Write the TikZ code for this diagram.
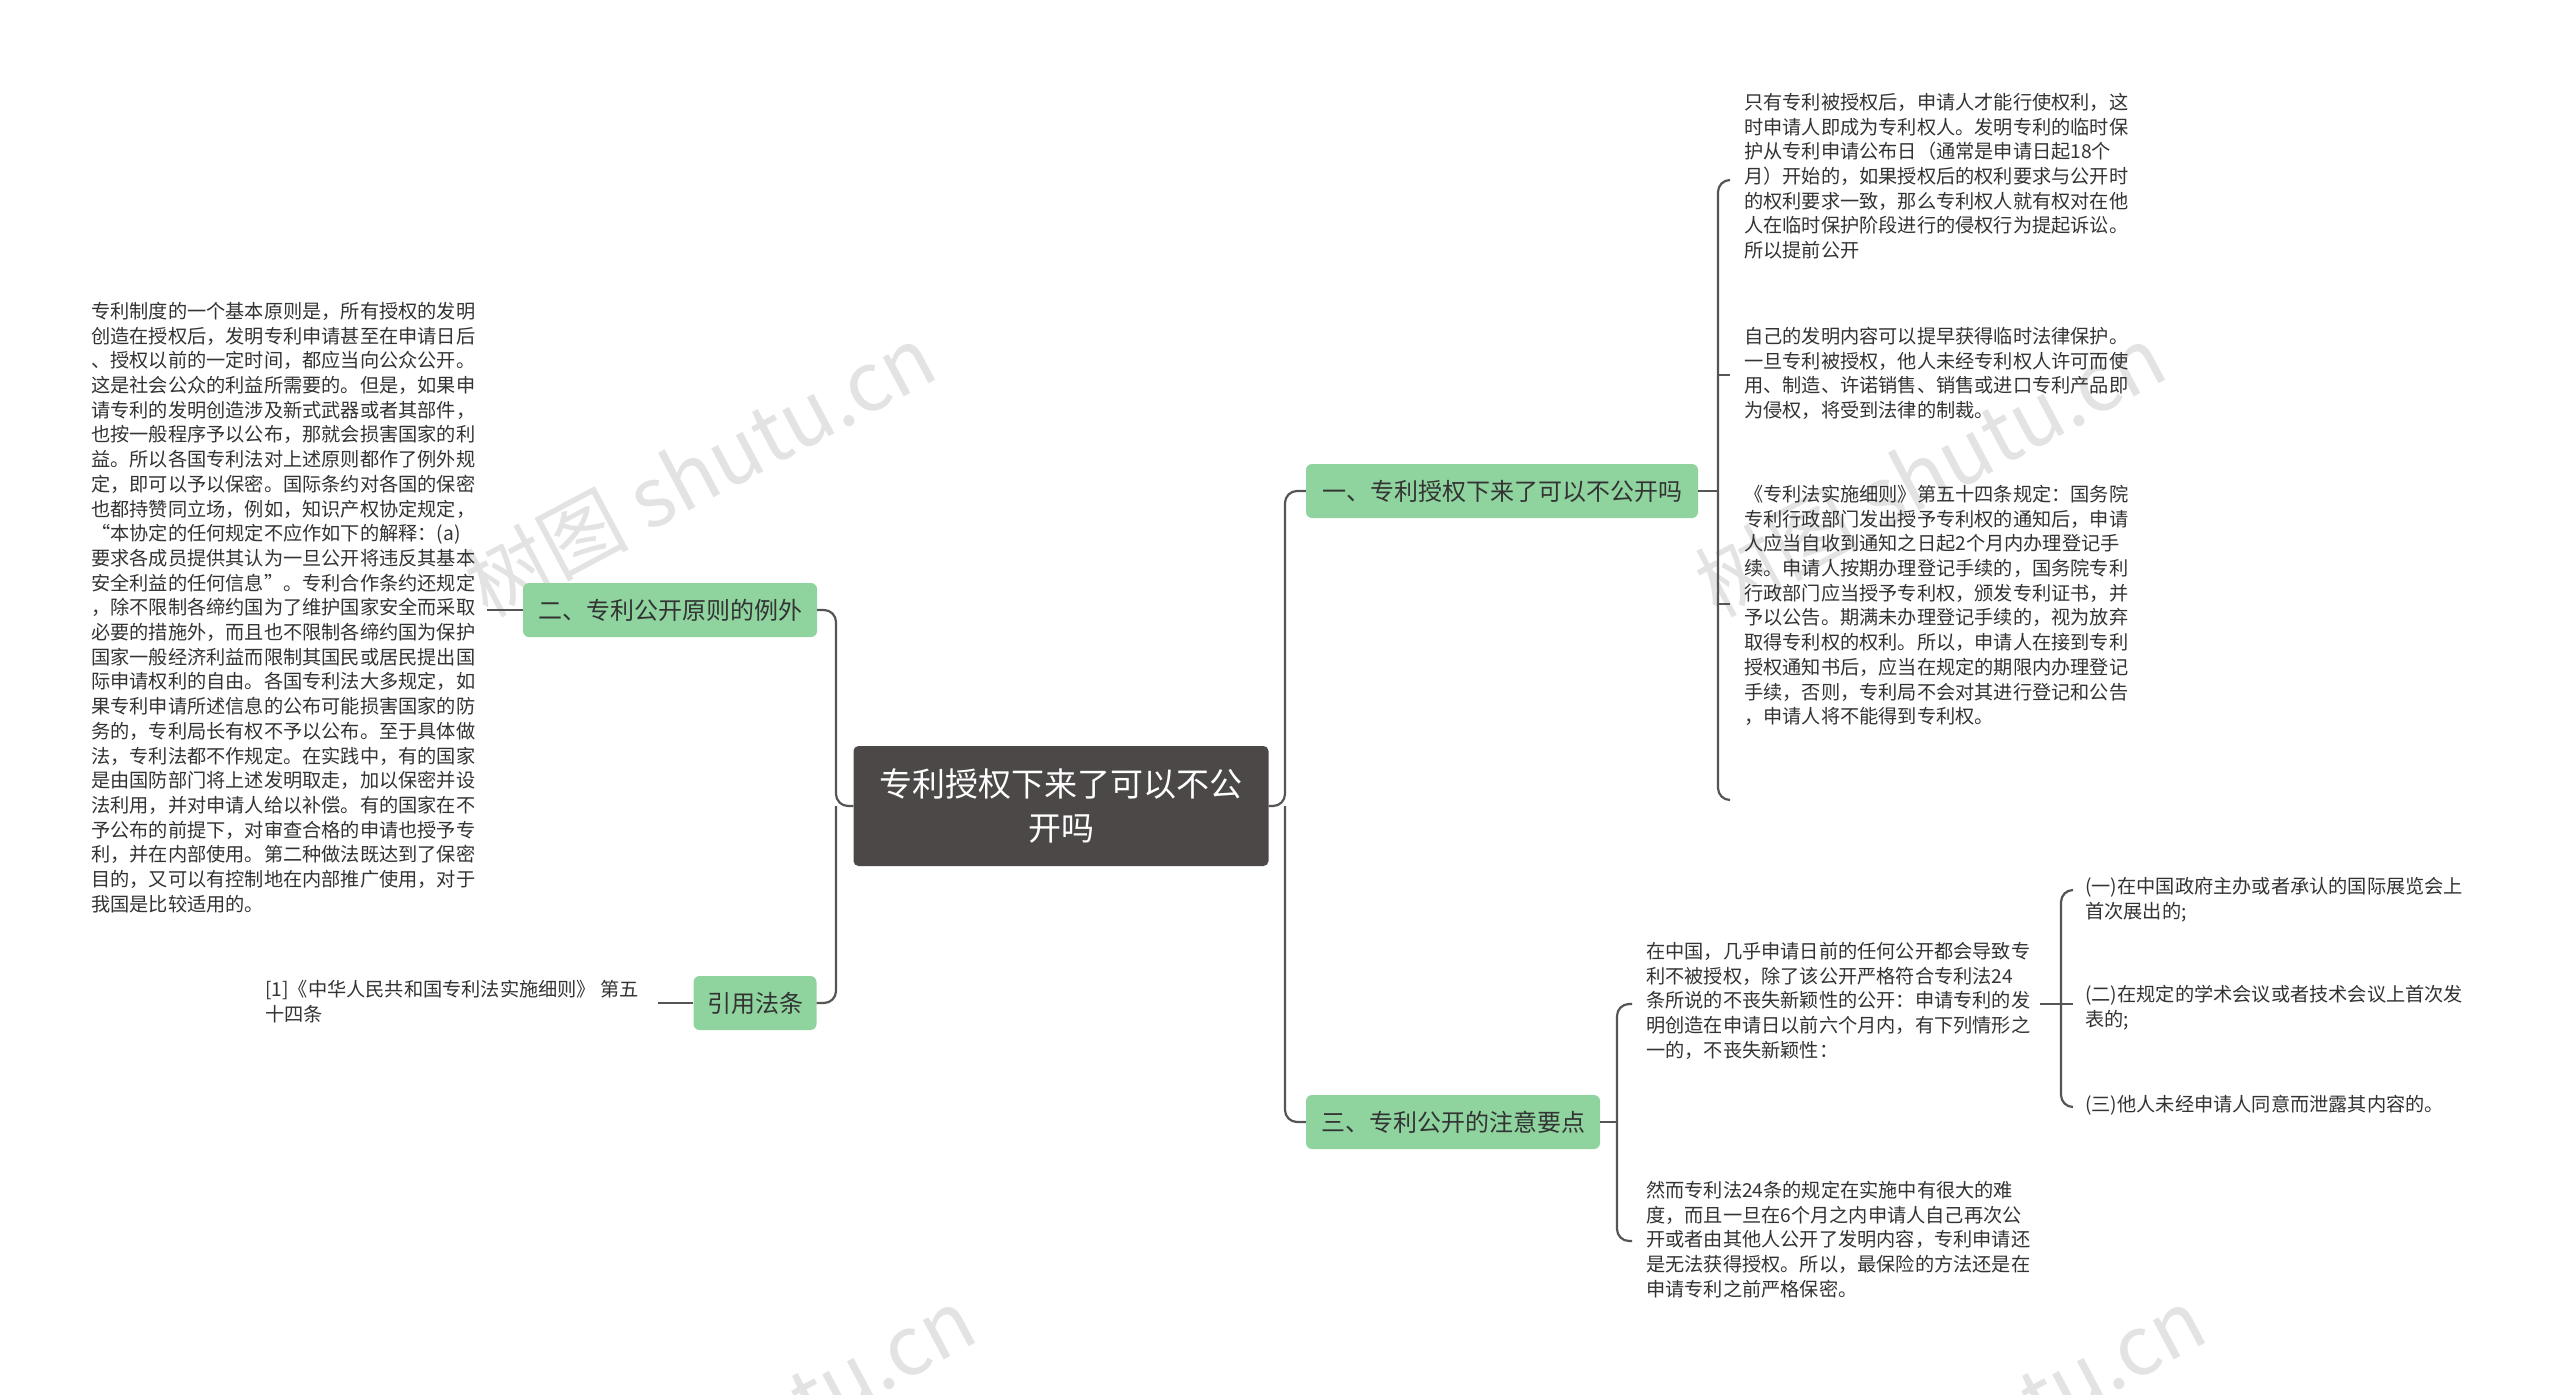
\documentclass[tikz,border=0pt]{standalone}
\usepackage{fontspec}
\setmainfont{Noto Sans CJK SC}
\definecolor{lnk}{HTML}{555555}
\definecolor{grn}{HTML}{8FD49F}
\definecolor{rootc}{HTML}{4D4848}
\definecolor{wm}{HTML}{E3E3E3}
\definecolor{txt}{HTML}{333333}
\begin{document}
\begin{tikzpicture}[x=1pt,y=-1pt,
  link/.style={draw=lnk,line width=2.2pt,rounded corners=12pt},
  branch/.style={fill=grn,rounded corners=6pt,minimum height=54pt,inner xsep=10pt,font=\fontsize{24}{30}\selectfont,text=txt},
  body/.style={anchor=north west,inner sep=0pt,align=left,text=txt,font=\fontsize{19.2}{24.7}\selectfont},
  wmark/.style={text=wm,font=\fontsize{82}{90}\selectfont,rotate=28}]
\useasboundingbox (0,0) rectangle (2560,1395);
\fill[white] (0,0) rectangle (2560,1395);
% watermarks
\node[wmark] at (700,470) {树图 shutu.cn};
\node[wmark] at (1930,470) {树图 shutu.cn};
\node[wmark] at (820,1390) {shutu.cn};
\node[wmark] at (2050,1390) {shutu.cn};
% root
\node[fill=rootc,rounded corners=5pt,minimum width=415pt,minimum height=120pt,align=center,text=white,font=\fontsize{33}{44}\selectfont] (root) at (1061,806) {专利授权下来了可以不公\\开吗};
% branches
\node[branch,minimum width=392pt] (b1) at (1502,491) {一、专利授权下来了可以不公开吗};
\node[branch,minimum width=294pt] (b2) at (670,610) {二、专利公开原则的例外};
\node[branch,minimum width=123pt] (b3) at (755,1003) {引用法条};
\node[branch,minimum width=294pt] (b4) at (1453,1122) {三、专利公开的注意要点};
% root connectors
\draw[link] (root.west) -- (836,806) |- (b2.east);
\draw[link] (836,806) |- (b3.east);
\draw[link] (root.east) -- (1285,806) |- (b1.west);
\draw[link] (1285,806) |- (b4.west);
% left texts
\node[body] (t2) at (91,302) {专利制度的一个基本原则是，所有授权的发明\\创造在授权后，发明专利申请甚至在申请日后\\、授权以前的一定时间，都应当向公众公开。\\这是社会公众的利益所需要的。但是，如果申\\请专利的发明创造涉及新式武器或者其部件，\\也按一般程序予以公布，那就会损害国家的利\\益。所以各国专利法对上述原则都作了例外规\\定，即可以予以保密。国际条约对各国的保密\\也都持赞同立场，例如，知识产权协定规定，\\“本协定的任何规定不应作如下的解释：(a)\\要求各成员提供其认为一旦公开将违反其基本\\安全利益的任何信息”。专利合作条约还规定\\，除不限制各缔约国为了维护国家安全而采取\\必要的措施外，而且也不限制各缔约国为保护\\国家一般经济利益而限制其国民或居民提出国\\际申请权利的自由。各国专利法大多规定，如\\果专利申请所述信息的公布可能损害国家的防\\务的，专利局长有权不予以公布。至于具体做\\法，专利法都不作规定。在实践中，有的国家\\是由国防部门将上述发明取走，加以保密并设\\法利用，并对申请人给以补偿。有的国家在不\\予公布的前提下，对审查合格的申请也授予专\\利，并在内部使用。第二种做法既达到了保密\\目的，又可以有控制地在内部推广使用，对于\\我国是比较适用的。};
\coordinate (t2e) at (487,610);
\draw[link] (b2.west) -- (t2e);
\node[body] (t3) at (265,980) {[1]《中华人民共和国专利法实施细则》 第五\\十四条};
\coordinate (t3e) at (658,1003);
\draw[link] (b3.west) -- (t3e);
% branch 1 children
\node[body] (c1) at (1744,93) {只有专利被授权后，申请人才能行使权利，这\\时申请人即成为专利权人。发明专利的临时保\\护从专利申请公布日（通常是申请日起18个\\月）开始的，如果授权后的权利要求与公开时\\的权利要求一致，那么专利权人就有权对在他\\人在临时保护阶段进行的侵权行为提起诉讼。\\所以提前公开};
\node[body] (c2) at (1744,327) {自己的发明内容可以提早获得临时法律保护。\\一旦专利被授权，他人未经专利权人许可而使\\用、制造、许诺销售、销售或进口专利产品即\\为侵权，将受到法律的制裁。};
\node[body] (c3) at (1744,485) {《专利法实施细则》第五十四条规定：国务院\\专利行政部门发出授予专利权的通知后，申请\\人应当自收到通知之日起2个月内办理登记手\\续。申请人按期办理登记手续的，国务院专利\\行政部门应当授予专利权，颁发专利证书，并\\予以公告。期满未办理登记手续的，视为放弃\\取得专利权的权利。所以，申请人在接到专利\\授权通知书后，应当在规定的期限内办理登记\\手续，否则，专利局不会对其进行登记和公告\\，申请人将不能得到专利权。};
\draw[link] (b1.east) -- (1718,491);
\draw[link] (1730,180) -- (1718,180) -- (1718,800) -- (1730,800);
\draw[link] (1718,375) -- (1730,375);
\draw[link] (1718,604) -- (1730,604);
% branch 4 children
\node[body] (d1) at (1646,942) {在中国，几乎申请日前的任何公开都会导致专\\利不被授权，除了该公开严格符合专利法24\\条所说的不丧失新颖性的公开：申请专利的发\\明创造在申请日以前六个月内，有下列情形之\\一的，不丧失新颖性：};
\node[body] (d2) at (1646,1181) {然而专利法24条的规定在实施中有很大的难\\度，而且一旦在6个月之内申请人自己再次公\\开或者由其他人公开了发明内容，专利申请还\\是无法获得授权。所以，最保险的方法还是在\\申请专利之前严格保密。};
\draw[link] (b4.east) -- (1617,1122);
\draw[link] (1632,1004) -- (1617,1004) -- (1617,1241) -- (1632,1241);
% sub children
\node[body] (e1) at (2085,877) {(一)在中国政府主办或者承认的国际展览会上\\首次展出的;};
\node[body] (e2) at (2085,985) {(二)在规定的学术会议或者技术会议上首次发\\表的;};
\node[body] (e3) at (2085,1095) {(三)他人未经申请人同意而泄露其内容的。};
\draw[link] (2040,1004) -- (2061,1004);
\draw[link] (2073,890) -- (2061,890) -- (2061,1107) -- (2073,1107);
\draw[link] (2061,1004) -- (2073,1004);
\end{tikzpicture}
\end{document}
